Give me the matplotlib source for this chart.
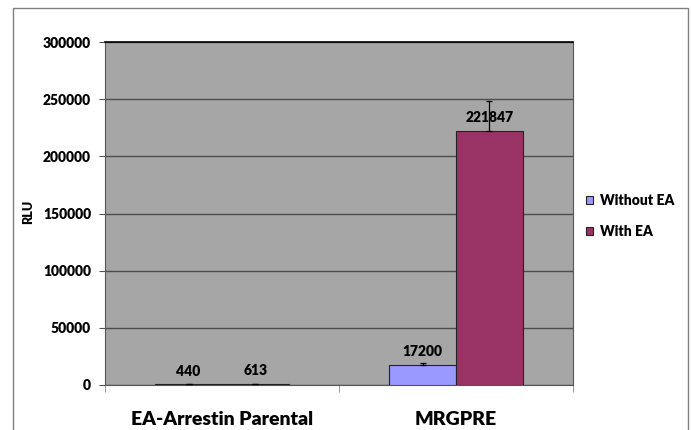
import numpy as np
import matplotlib.pyplot as plt
from matplotlib.patches import Rectangle

plt.rcParams['font.family'] = ['Lato', 'DejaVu Sans']
plt.rcParams['font.weight'] = 'heavy'

categories = ['EA-Arrestin Parental', 'MRGPRE']
series_names = ['Without EA', 'With EA']
without_ea = [440, 17200]
with_ea = [613, 221847]
without_err = [120, 2300]
with_err = [150, 26800]
colors = ['#9999FF', '#993366']

fig = plt.figure(figsize=(6.91, 4.30), dpi=100)
ax = fig.add_axes([105/691, 45/430, 468/691, 343/430])
ax.set_facecolor('#A6A6A6')

x = np.arange(len(categories))
w = 0.286
vals = [without_ea, with_ea]
errs = [without_err, with_err]
for i in range(2):
    xs = x + (i - 0.5) * w
    ax.bar(xs, vals[i], w, color=colors[i], edgecolor='#222222', linewidth=0.8,
           label=series_names[i], zorder=3)
    ax.errorbar(xs, vals[i], yerr=[np.zeros(2), errs[i]], fmt='none',
                ecolor='black', elinewidth=0.9, capsize=2.5, capthick=0.9, zorder=4)
    for xx, v in zip(xs, vals[i]):
        ax.annotate(str(v), (xx, v), xytext=(0, 9.7), textcoords='offset points',
                    ha='center', va='center', fontsize=10, fontweight='heavy', zorder=5)

ax.set_xlim(-0.5, 1.5)
ax.set_ylim(0, 300000)
ax.set_yticks(np.arange(0, 300001, 50000))
ax.tick_params(axis='y', labelsize=10, length=4, pad=6, color='#555555')
ax.yaxis.grid(True, color='#4d4d4d', linewidth=1, zorder=0)
ax.set_axisbelow(True)

ax.set_xticks(x)
ax.set_xticklabels(categories, fontsize=14, fontweight='heavy')
ax.tick_params(axis='x', length=0, pad=18.5)
ax.set_xticks([-0.5, 0.5, 1.5], minor=True)
ax.tick_params(axis='x', which='minor', length=5, color='#888888')

for s in ['left', 'right', 'bottom']:
    ax.spines[s].set_color('#555555')
ax.spines['top'].set_color('black')
ax.spines['top'].set_linewidth(1.2)

fig.text(28/691, 1 - 212/430, 'RLU', rotation=90, ha='center', va='center',
         fontsize=9, fontweight='heavy')

ax.legend(loc='center left', bbox_to_anchor=(579/691, 1 - 216/430),
          bbox_transform=fig.transFigure, frameon=False,
          prop={'size': 10, 'weight': 'heavy'},
          handlelength=0.5, handleheight=0.5, handletextpad=0.5,
          labelspacing=1.3, borderpad=0)

fig.patches.append(Rectangle((13/691, -0.05), 675/691, 1.05 - 8/430,
                             transform=fig.transFigure, fill=False,
                             edgecolor='#808080', linewidth=1))

fig.savefig('out.png', dpi=100)
